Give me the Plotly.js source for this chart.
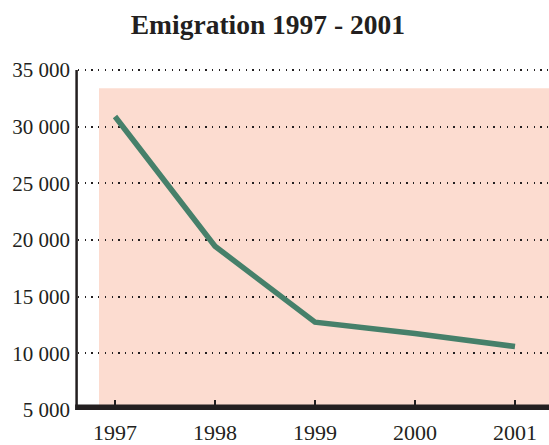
<!DOCTYPE html>
<html><head><meta charset="utf-8">
<script src="https://cdn.plot.ly/plotly-3.0.1.min.js"></script>
<style>body{margin:0;padding:0;background:#fff}#chart{width:549px;height:445px}</style>
</head><body><div id="chart"></div>
<script>
const years = [1997, 1998, 1999, 2000, 2001];
const emigration = [30900, 19450, 12750, 11750, 10600];
const yTickVals = [5000, 10000, 15000, 20000, 25000, 30000, 35000];
const yTickText = ["5 000", "10 000", "15 000", "20 000", "25 000", "30 000", "35 000"];
const xTickText = ["1997", "1998", "1999", "2000", "2001"];

const serif = "Liberation Serif, Times New Roman, serif";
const trace = {
  x: years, y: emigration, type: "scatter", mode: "lines",
  line: {color: "#46806a", width: 5.5}, hoverinfo: "skip"
};
const layout = {
  width: 549, height: 445,
  margin: {l: 78, r: 0, t: 60, b: 35},
  paper_bgcolor: "#fff", plot_bgcolor: "rgba(0,0,0,0)",
  showlegend: false,
  title: {text: "<b>Emigration 1997 - 2001</b>", x: 0.488, xanchor: "center", y: 0.945, yanchor: "middle",
          font: {family: serif, size: 27.5, color: "#231f20"}},
  xaxis: {range: [1996.63, 2001.34], tickvals: years, ticktext: xTickText,
          showgrid: false, zeroline: false, showline: false,
          ticks: "inside", ticklen: 10, tickwidth: 2, tickcolor: "#231f20",
          tickfont: {family: serif, size: 22, color: "#231f20"}, ticklabelstandoff: 7},
  yaxis: {range: [5000, 35882], tickvals: yTickVals, ticktext: yTickText,
          showgrid: true, gridcolor: "#231f20", gridwidth: 2, griddash: "1.3px,5.4px",
          zeroline: false, showline: false,
          ticks: "", tickfont: {family: serif, size: 21, color: "#231f20"}, ticklabelstandoff: 7},
  shapes: [
    {type: "rect", xref: "x", yref: "y", x0: 1996.84, x1: 2001.4, y0: 5000, y1: 33400,
     fillcolor: "#fcdcd0", line: {width: 0}, layer: "below"},
    {type: "line", xref: "paper", yref: "y", x0: -0.003, x1: -0.003, y0: 5000, y1: 35000,
     line: {color: "#231f20", width: 2.5}, layer: "above"},
    {type: "line", xref: "paper", yref: "y", x0: -0.006, x1: 1, y0: 5000, y1: 5000,
     line: {color: "#231f20", width: 11}, layer: "above"}
  ]
};
Plotly.newPlot("chart", [trace], layout, {staticPlot: true, displayModeBar: false});
</script></body></html>
